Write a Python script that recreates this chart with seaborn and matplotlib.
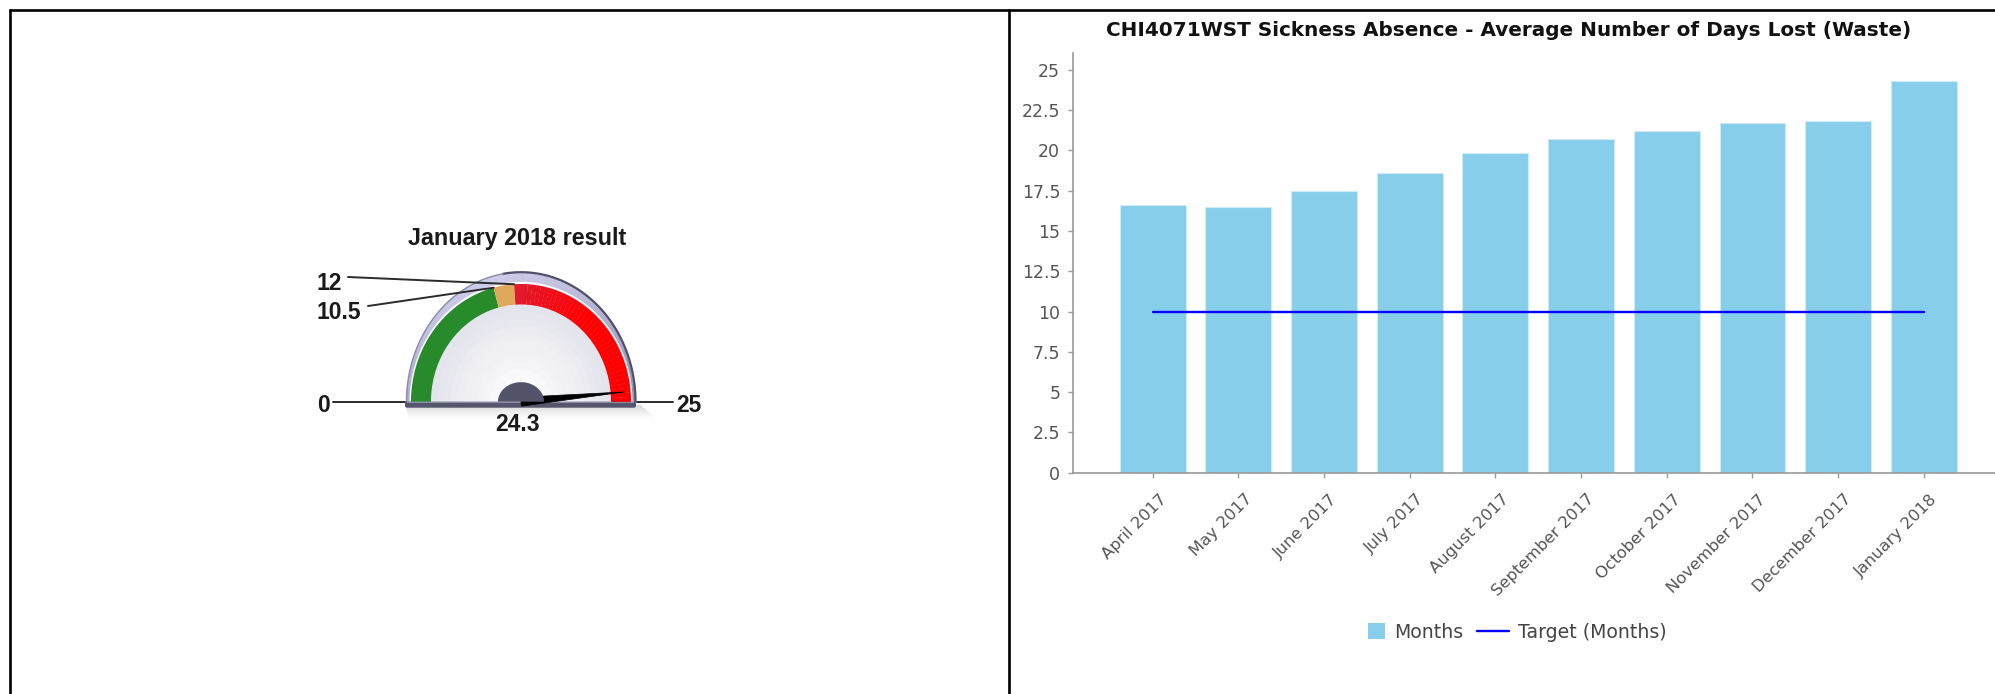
import numpy as np
import pandas as pd
import matplotlib
matplotlib.use("Agg")
import matplotlib.pyplot as plt
import matplotlib.patches as mpatches
import matplotlib.transforms as mtransforms
from matplotlib.colors import to_rgb
from matplotlib.lines import Line2D
from matplotlib.legend_handler import HandlerPatch
import seaborn as sns

# ---- data -------------------------------------------------------------
months = ["April 2017", "May 2017", "June 2017", "July 2017", "August 2017",
          "September 2017", "October 2017", "November 2017", "December 2017",
          "January 2018"]
days_lost = [16.6, 16.5, 17.5, 18.6, 19.85, 20.7, 21.2, 21.7, 21.85, 24.3]
target = [10, 10, 10, 10, 10, 10, 10, 10, 10, 10]
y_ticks = [0, 2.5, 5, 7.5, 10, 12.5, 15, 17.5, 20, 22.5, 25]

chart_title = "CHI4071WST Sickness Absence - Average Number of Days Lost (Waste)"
gauge_title = "January 2018 result"
gauge_min, gauge_max = 0, 25
gauge_green_to = 10.5
gauge_amber_to = 12
gauge_value = days_lost[-1]

# ---- figure -------------------------------------------------------------
W, H, DPI = 1995, 694, 100
sns.set_theme(style="white")
plt.rcParams["font.family"] = ["DejaVu Sans"]

fig = plt.figure(figsize=(W / DPI, H / DPI), dpi=DPI)
fig.patch.set_facecolor("white")


def px_box(x0, y0, x1, y1):
    """Pixel box measured from the top-left corner -> figure fraction rect."""
    return [x0 / W, 1 - y1 / H, (x1 - x0) / W, (y1 - y0) / H]


# ---- bar chart ------------------------------------------------------------
ax = fig.add_axes(px_box(1073.3, 53, 1995, 472.7))
df = pd.DataFrame({"Month": months, "Days": days_lost, "Target": target})
sns.barplot(data=df, x="Month", y="Days", color="#87CEEB", saturation=1,
            width=0.77, edgecolor="#cdeaf6", linewidth=0.8, ax=ax)
sns.lineplot(x=np.arange(len(months)), y=df["Target"].to_numpy(),
             color="#0000FF", linewidth=1.7, ax=ax)

ax.set_xlim(-0.926, 9.83)
ax.set_ylim(0, 26.05)
ax.set_xlabel("")
ax.set_ylabel("")
ax.set_yticks(y_ticks)
ax.set_yticklabels([f"{t:g}" for t in y_ticks])
ax.set_xticks(range(len(months)))
ax.set_xticklabels(months, rotation=45, ha="right", rotation_mode="anchor")
for side in ("top", "right"):
    ax.spines[side].set_visible(False)
for side in ("left", "bottom"):
    ax.spines[side].set_color("#999999")
    ax.spines[side].set_linewidth(1.2)
ax.tick_params(axis="both", bottom=True, left=True, direction="out",
               length=3.6, width=1, color="#999999", labelcolor="#555555",
               labelsize=12.5)
ax.tick_params(axis="x", labelsize=11.8, pad=10)
ax.tick_params(axis="y", pad=5.8)
shift = mtransforms.ScaledTranslation(6 / DPI, 0, fig.dpi_scale_trans)
for lab in ax.get_xticklabels():
    lab.set_transform(lab.get_transform() + shift)

fig.text(1509 / W, 1 - 30 / H, chart_title, ha="center", va="center",
         fontsize=14.4, fontweight="bold", color="#111111")


class SquareHandler(HandlerPatch):
    def create_artists(self, legend, orig_handle, xdescent, ydescent,
                       width, height, fontsize, trans):
        s = height * 1.25
        p = mpatches.Rectangle((-xdescent + width - s, -ydescent + (height - s) / 2),
                               s, s, facecolor=orig_handle.get_facecolor(),
                               edgecolor="none", transform=trans)
        return [p]


bar_handle = mpatches.Patch(facecolor="#87CEEB")
line_handle = Line2D([], [], color="#0000FF", linewidth=1.7)
fig.legend(handles=[bar_handle, line_handle], labels=["Months", "Target (Months)"],
           loc="center", bbox_to_anchor=(1510 / W, 1 - 632 / H), ncol=2,
           frameon=False, fontsize=13.6, handlelength=1.65, handletextpad=0.5,
           columnspacing=0.75, labelcolor="#444444",
           handler_map={mpatches.Patch: SquareHandler()})

# ---- gauge ----------------------------------------------------------------
gx = fig.add_axes(px_box(0, 0, 1009, H))
gx.set_xlim(0, 1009)
gx.set_ylim(H, 0)
gx.axis("off")

cx, cy = 521, 401.7
stretch = 1.07


def to_angle(v):
    return np.pi * (1 - (v - gauge_min) / (gauge_max - gauge_min))


def arc_pts(r, a0, a1, s=stretch, n=80):
    t = np.linspace(a0, a1, n)
    return np.column_stack([cx + r * np.cos(t), cy - s * r * np.sin(t)])


def band(r_in, r_out, a0, a1, color, s=stretch, s_in=None, z=2, **kw):
    outer = arc_pts(r_out, a0, a1, s)
    if r_in > 0:
        inner = arc_pts(r_in, a1, a0, s if s_in is None else s_in)
    else:
        inner = np.array([[cx, cy]])
    gx.add_patch(mpatches.Polygon(np.vstack([outer, inner]), closed=True,
                                  facecolor=color, edgecolor="none", zorder=z, **kw))


def mix(c1, c2, f):
    a, b = np.array(to_rgb(c1)), np.array(to_rgb(c2))
    return tuple(a + (b - a) * f)


# soft drop shadow under the dial
for i in range(16):
    gx.add_patch(mpatches.Rectangle((405 + i * 0.3, 405 + i), 236 + i * 0.9, 1.2,
                                    facecolor="#6a6a6a", alpha=0.26 * (1 - i / 16) ** 1.6,
                                    edgecolor="none", zorder=1))

# bezel: lavender ring, lighter towards the top-left
n_seg = 60
for k in range(n_seg):
    a0 = np.pi * k / n_seg
    a1 = np.pi * (k + 1) / n_seg + 0.005
    f = 0.5 + 0.5 * np.cos((a0 + a1) / 2 - 1.9)
    band(0, 114.5, a0, a1, mix("#74748f", "#cbcbe8", f), s=1.131, z=2)
gx.plot(*arc_pts(114.5, 0, np.pi * 0.55, s=1.131).T, color="#50506a", lw=1.6, zorder=3)
gx.plot(*arc_pts(114.5, np.pi * 0.55, np.pi, s=1.131).T, color="#8a8aa6", lw=1.0, zorder=3)

# white gap and dial face with a gentle radial shading
band(0, 111.5, 0, np.pi, "#fbfbfe", s=1.075, z=3)
for k in range(12):
    r = 90 - k * 6.6
    band(0, r, 0, np.pi, mix("#e4e4ec", "#fcfcfd", k / 11), s=1.08, z=4)

# coloured ranges
band(90, 110, to_angle(gauge_min), to_angle(gauge_green_to), "#278a2b", s_in=1.08, z=5)
band(90, 110, to_angle(gauge_green_to), to_angle(gauge_amber_to), "#dfa85c", s_in=1.08, z=5)
red_steps = 40
red_edges = np.linspace(gauge_amber_to, gauge_max, red_steps + 1)
for k in range(red_steps):
    f = min(1.0, k / (red_steps * 0.45))
    band(90, 110, to_angle(red_edges[k + 1]) - 0.003, to_angle(red_edges[k]),
         mix("#e01b2e", "#ff0000", f), s_in=1.08, z=5)

# base bar
gx.add_patch(mpatches.FancyBboxPatch((405, 401.7), 231, 6,
                                     boxstyle="round,pad=0,rounding_size=2",
                                     facecolor="#55556d", edgecolor="none", zorder=6))
gx.add_patch(mpatches.Rectangle((407, 401.7), 227, 1.2, facecolor="#8c8ca6",
                                edgecolor="none", zorder=6))

# needle
th = to_angle(gauge_value)
tip = (cx + 104 * np.cos(th), cy - stretch * 104 * np.sin(th))
perp = np.array([np.sin(th), np.cos(th)])
base_a = np.array([cx, cy]) + perp * 4.5
base_b = np.array([cx, cy]) - perp * 4.5
gx.add_patch(mpatches.Polygon([base_a, tip, base_b], closed=True,
                              facecolor="black", edgecolor="black", lw=0.5, zorder=8))

# hub
band(0, 23, 0, np.pi, "#53536a", s=0.85, z=9)

# scale labels with leader lines
lab_font = dict(family=["Liberation Sans", "DejaVu Sans"], fontsize=16.5,
                fontweight="bold", color="#1a1a1a", zorder=10)
lead = dict(color="#2a2a2a", lw=1.4, zorder=7)

gx.plot([333, 405], [401.7, 401.7], **lead)
gx.text(316.7, 412, f"{gauge_min:g}", ha="left", va="baseline", **lab_font)
gx.plot([637, 673], [401.7, 401.7], **lead)
gx.text(676.7, 412, f"{gauge_max:g}", ha="left", va="baseline", **lab_font)

p12 = arc_pts(110, to_angle(gauge_amber_to), to_angle(gauge_amber_to), n=1)[0]
gx.plot([348, p12[0]], [277, p12[1]], **lead)
gx.text(316.7, 289.5, f"{gauge_amber_to:g}", ha="left", va="baseline", **lab_font)

p105 = arc_pts(110, to_angle(gauge_green_to), to_angle(gauge_green_to), n=1)[0]
gx.plot([368, p105[0]], [306, p105[1]], **lead)
gx.text(316.7, 319, f"{gauge_green_to:g}", ha="left", va="baseline", **lab_font)

gx.text(518, 431, f"{gauge_value:g}", ha="center", va="baseline", **lab_font)
gx.text(517.5, 245, gauge_title, ha="center", va="baseline",
        family=["Liberation Sans", "DejaVu Sans"], fontsize=16.8,
        fontweight="bold", color="#1a1a1a")

# ---- panel frame ------------------------------------------------------------
frame = dict(color="black", lw=1.9, transform=fig.transFigure, solid_capstyle="butt")
fig.add_artist(Line2D([9 / W, 1], [1 - 10 / H, 1 - 10 / H], **frame))
fig.add_artist(Line2D([9.5 / W, 9.5 / W], [0, 1 - 9 / H], **frame))
fig.add_artist(Line2D([1009 / W, 1009 / W], [0, 1 - 9 / H], **frame))

fig.savefig("out.png", dpi=DPI, facecolor="white")
